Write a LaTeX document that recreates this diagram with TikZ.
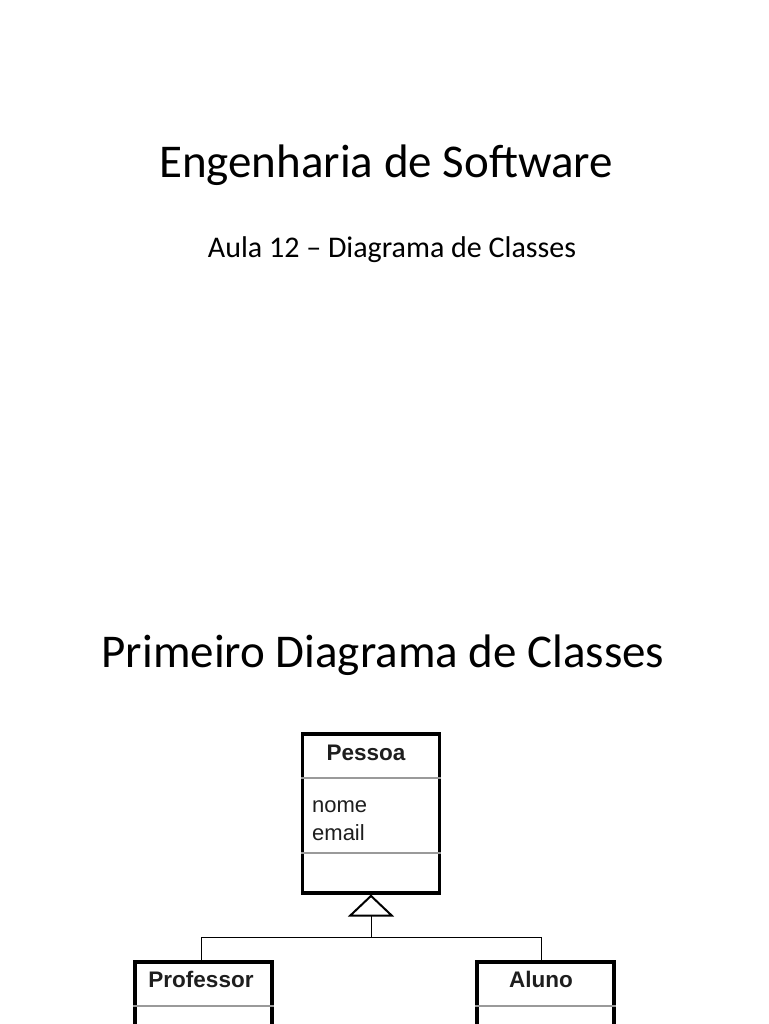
\documentclass[tikz,border=0pt]{standalone}
\usepackage{fontspec}
\setmainfont{Carlito}
\newfontfamily\umlfont{Liberation Sans}
\usetikzlibrary{arrows.meta, positioning, calc}
\definecolor{sepgray}{HTML}{9A9A9A}
\definecolor{inkdark}{HTML}{1E1E1E}

\begin{document}
\begin{tikzpicture}[
  x=1pt, y=-1pt,
  heading/.style={anchor=base, inner sep=0pt, font=\fontsize{47}{56}\selectfont},
  subheading/.style={anchor=base, inner sep=0pt, font=\fontsize{30}{36}\selectfont},
  classbox/.style={draw, line width=3.5pt, minimum width=137pt, inner sep=0pt, anchor=north},
  classname/.style={anchor=base, inner sep=0pt, text=inkdark, font=\umlfont\bfseries\fontsize{22.5}{27}\selectfont},
  attr/.style={anchor=base west, inner sep=0pt, text=inkdark, font=\umlfont\fontsize{22}{26}\selectfont},
  sep/.style={draw=sepgray, line width=1.3pt},
  inherit/.style={-{Triangle[open, length=22pt, width=46pt, line width=2pt]}, line width=1pt}
]
  \clip (0,0) rectangle (768,1024);
  \fill[white] (0,0) rectangle (768,1024);

  % titles
  \node[heading] (title) at (386,178) {Engenharia de Software};
  \node[subheading] (subtitle) at (392,258) {Aula 12 – Diagrama de Classes};
  \node[heading] (title2) at (383,667) {Primeiro Diagrama de Classes};

  % classes
  \node[classbox, minimum height=159pt] (pessoa) at (371,732) {};
  \node[classname] (pessoaname) at (366,760) {Pessoa};
  \node[attr] (nome) at (312,812) {nome};
  \node[attr] (email) at (312,840) {email};
  \draw[sep] (pessoa.west |- 0,778) -- (pessoa.east |- 0,778);
  \draw[sep] (pessoa.west |- 0,853) -- (pessoa.east |- 0,853);

  \node[classbox, minimum height=120pt] (professor) at (203.5,960) {};
  \node[classname] (professorname) at (201,987) {Professor};
  \draw[sep] (professor.west |- 0,1006) -- (professor.east |- 0,1006);

  \node[classbox, minimum height=120pt] (aluno) at (545.5,960) {};
  \node[classname] (alunoname) at (541,987) {Aluno};
  \draw[sep] (aluno.west |- 0,1006) -- (aluno.east |- 0,1006);

  % generalization
  \coordinate (hub) at (371,937);
  \draw[inherit] (hub) -- (pessoa.south);
  \draw[line width=1pt] (201,960) |- (hub) -| (541,960);
\end{tikzpicture}
\end{document}
